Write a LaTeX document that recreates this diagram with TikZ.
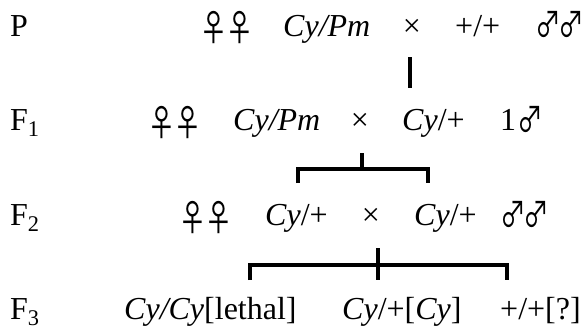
\documentclass[tikz,border=0pt]{standalone}
\usepackage{fontspec}
\setmainfont{Liberation Serif}
\newfontfamily\sexfont{Noto Sans CJK SC}
\usepackage{tikz}

\newcommand{\fem}{\makebox[26pt][c]{\raisebox{-6pt}{\scalebox{0.9}[1.15]{\sexfont\fontsize{32}{32}\selectfont ♀}}}}
\newcommand{\mal}{\makebox[23pt][c]{\raisebox{-2pt}{\scalebox{0.8}[1.1]{\sexfont\fontsize{32}{32}\selectfont ♂}}}}

\begin{document}
\begin{tikzpicture}[x=1pt,y=1pt,
    every node/.style={anchor=base west,inner sep=0pt,font=\fontsize{32}{38}\selectfont},
    crossing/.style={anchor=base},
    bar/.style={line width=3.5pt}]
  \useasboundingbox (0,0) rectangle (587,333);
  % parents
  \node (pGen) at (10,297) {P};
  \node (pFem) at (201,297) {\fem\fem};
  \node (pFemGeno) at (283,297) {\textit{Cy/Pm}};
  \node[crossing] (pCross) at (412,297) {×};
  \node (pMaleGeno) at (455,297) {+/+};
  \node (pMale) at (537,297) {\mal\mal};
  \draw[bar] (pCross.south) ++(-2,-21) -- ++(0,-31);
  % F1
  \node (fOneGen) at (10,203) {F\textsubscript{1}};
  \node (fOneFem) at (149,203) {\fem\fem};
  \node (fOneFemGeno) at (233,203) {\textit{Cy/Pm}};
  \node[crossing] (fOneCross) at (360,203) {×};
  \node (fOneMaleGeno) at (402,203) {\textit{Cy}/+};
  \node (fOneMale) at (500,203) {1\kern3pt\mal};
  \coordinate (fOneBar) at (362,164);
  \draw[bar] (fOneBar) ++(0,16) -- (fOneBar);
  \draw[bar] (298,150) |- (fOneBar) -| (428,150);
  % F2
  \node (fTwoGen) at (10,108) {F\textsubscript{2}};
  \node (fTwoFem) at (180,108) {\fem\fem};
  \node (fTwoFemGeno) at (265,108) {\textit{Cy}/+};
  \node[crossing] (fTwoCross) at (371,108) {×};
  \node (fTwoMaleGeno) at (414,108) {\textit{Cy}/+};
  \node (fTwoMale) at (502,108) {\mal\mal};
  \coordinate (fTwoBar) at (378,68);
  \draw[bar] (fTwoBar) ++(0,17) -- ++(0,-32);
  \draw[bar] (250,53) |- (fTwoBar) -| (507,53);
  % F3
  \node (fThreeGen) at (10,14) {F\textsubscript{3}};
  \node (fThreeLethal) at (124,14) {\textit{Cy/Cy}[lethal]};
  \node (fThreeCurly) at (342,14) {\textit{Cy}/+[\textit{Cy}]};
  \node (fThreeWild) at (500,14) {+/+[?]};
\end{tikzpicture}
\end{document}
